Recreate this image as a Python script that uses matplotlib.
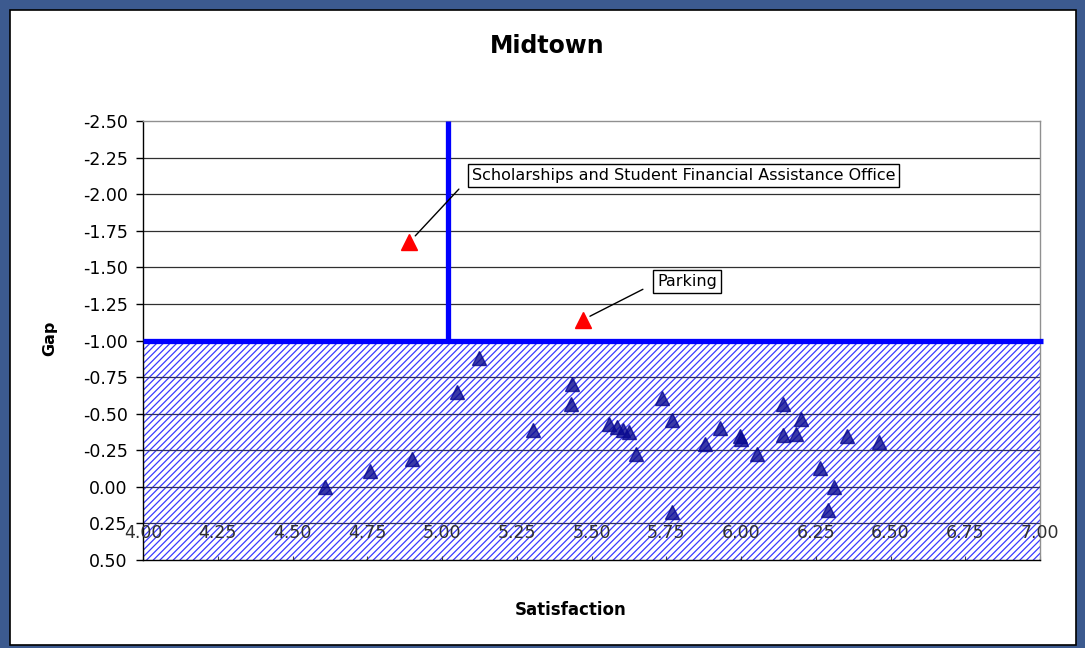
import matplotlib
matplotlib.use("Agg")
import matplotlib.pyplot as plt
from matplotlib.patches import Rectangle

# ---- data ----
title = "Midtown"
x_label = "Satisfaction"
y_label = "Gap"

x_ticks = [4.00, 4.25, 4.50, 4.75, 5.00, 5.25, 5.50, 5.75, 6.00, 6.25, 6.50, 6.75, 7.00]
y_ticks = [-2.50, -2.25, -2.00, -1.75, -1.50, -1.25, -1.00, -0.75, -0.50, -0.25, 0.00, 0.25, 0.50]

sat_threshold = 5.02
gap_threshold = -1.00
x_label_row = 0.25  # x-axis crosses here

priority_sat = [4.89, 5.47]
priority_gap = [-1.67, -1.14]
priority_names = ["Scholarships and Student Financial Assistance Office", "Parking"]
priority_label_pos = [(5.10, -2.13), (5.72, -1.40)]

other_sat = [4.61, 4.76, 4.90, 5.05, 5.125, 5.305, 5.435, 5.43, 5.56, 5.585,
             5.605, 5.625, 5.65, 5.735, 5.77, 5.77, 5.88, 5.93, 5.995, 6.00,
             6.055, 6.14, 6.14, 6.185, 6.20, 6.265, 6.31, 6.29, 6.355, 6.46]
other_gap = [0.00, -0.11, -0.19, -0.645, -0.88, -0.385, -0.70, -0.565, -0.43, -0.41,
             -0.39, -0.375, -0.225, -0.605, -0.46, 0.17, -0.29, -0.40, -0.35, -0.325,
             -0.225, -0.565, -0.355, -0.36, -0.465, -0.13, 0.00, 0.16, -0.35, -0.305]

# ---- figure ----
plt.rcParams['font.family'] = ['DejaVu Sans']
plt.rcParams['hatch.linewidth'] = 0.9
plt.rcParams['hatch.color'] = '#3a3aff'

fig = plt.figure(figsize=(10.85, 6.48), dpi=100)
fig.patch.set_facecolor('#3C5A8F')
fig.patches.append(Rectangle((10 / 1085, 3 / 648), 1066 / 1085, 635 / 648,
                             transform=fig.transFigure, facecolor='white',
                             edgecolor='black', linewidth=1.2, zorder=-10))

ax = fig.add_axes([143 / 1085, 1 - 560 / 648, 897 / 1085, 439 / 648])
ax.set_facecolor('white')
ax.set_xlim(x_ticks[0], x_ticks[-1])
ax.set_ylim(y_ticks[-1], y_ticks[0])  # inverted

# gridlines
for yv in y_ticks[1:-1]:
    ax.axhline(yv, color='#303030', linewidth=0.9, zorder=1)

# hatched "acceptable gap" zone
ax.axhspan(gap_threshold, y_ticks[-1], facecolor='white', edgecolor='#3a3aff',
           hatch='/////', linewidth=0, zorder=1.5)
for yv in y_ticks[1:-1]:
    if yv > gap_threshold:
        ax.axhline(yv, color='#303060', linewidth=0.9, zorder=1.6)

# points
ax.plot(other_sat, other_gap, linestyle='none', marker='^', markersize=10.5,
        markerfacecolor='#0a0a90', markeredgecolor='#0a0a90', alpha=0.8, zorder=3)
ax.plot(priority_sat, priority_gap, linestyle='none', marker='^', markersize=11.5,
        markerfacecolor='#ff0000', markeredgecolor='#ff0000', zorder=4)

# threshold lines
ax.plot([sat_threshold, sat_threshold], [gap_threshold, y_ticks[0]],
        color='#0000ff', linewidth=3.8, solid_capstyle='butt', zorder=5, clip_on=False)
ax.plot([x_ticks[0], x_ticks[-1] + 0.01], [gap_threshold, gap_threshold],
        color='#0000ff', linewidth=3.8, solid_capstyle='butt', zorder=5, clip_on=False)

# annotations
shrinks = [(9, 6.5), (8, 6)]
for sx, gy, name, pos, (sa, sb) in zip(priority_sat, priority_gap, priority_names,
                                       priority_label_pos, shrinks):
    ax.annotate(name, xy=(sx, gy), xytext=pos, ha='left', va='center',
                fontsize=11.5, color='black', zorder=6,
                bbox=dict(boxstyle='square,pad=0.25', facecolor='white',
                          edgecolor='black', linewidth=1.0),
                arrowprops=dict(arrowstyle='-', color='black', linewidth=1.0,
                                relpos=(0, 0.5), shrinkA=sa, shrinkB=sb))

# axes styling
ax.set_yticks(y_ticks)
ax.set_yticklabels([f"{v:.2f}" for v in y_ticks], fontsize=12.5)
ax.tick_params(axis='y', direction='out', length=5, width=1, pad=6, color='black')
ax.set_xticks(x_ticks)
ax.set_xticklabels([])
ax.tick_params(axis='x', direction='in', length=3, width=0.8, color='#404040')
for xv in x_ticks:
    ax.text(xv, x_label_row + 0.005, f"{xv:.2f}", ha='center', va='top',
            fontsize=12.5, color='#303030', zorder=4)

ax.spines['left'].set_color('black')
ax.spines['bottom'].set_color('black')
ax.spines['top'].set_color('#909090')
ax.spines['right'].set_color('#909090')
for s in ax.spines.values():
    s.set_linewidth(1.0)

fig.text(547 / 1085, 1 - 46 / 648, title, ha='center', va='center',
         fontsize=17, fontweight='bold')
fig.text(571 / 1085, 1 - 610 / 648, x_label, ha='center', va='center',
         fontsize=12, fontweight='bold')
fig.text(50 / 1085, 1 - 338 / 648, y_label, ha='center', va='center',
         rotation=90, fontsize=11.5, fontweight='bold')

fig.savefig("out.png", dpi=100, facecolor=fig.get_facecolor())
